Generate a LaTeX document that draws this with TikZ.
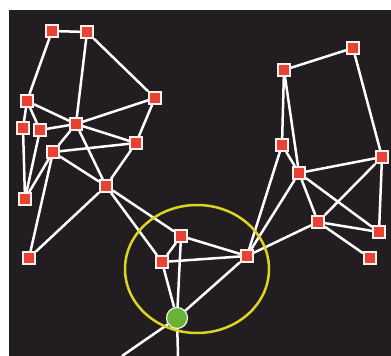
\documentclass[tikz,border=0pt]{standalone}
\definecolor{BoardDark}{RGB}{34,29,32}
\definecolor{HubRed}{RGB}{232,66,50}
\definecolor{SeedGreen}{RGB}{104,178,52}
\definecolor{RingYellow}{RGB}{222,212,34}
\usepackage{tikz}
\usetikzlibrary{backgrounds}

\begin{document}
\begin{tikzpicture}[x=1pt,y=-1pt,
    sq/.style={draw=white!92!HubRed,fill=HubRed,line width=2.4pt,minimum size=11.5pt,inner sep=0pt},
    seed/.style={circle,draw=white!85!SeedGreen,fill=SeedGreen,line width=1.2pt,minimum size=21pt,inner sep=0pt},
    link/.style={white,line width=2.5pt}]
      \useasboundingbox (0,0) rectangle (391,356);
      % left cluster
      \foreach \n/\x/\y in {
        a/52/31, b/87/32, c/27/101, d/155/98, e/23/128, f/40/130,
        g/76/124, h/136/143, i/53/152, j/106/186, k/25/199, l/29/258}{
        \node[sq] (\n) at (\x,\y) {};
      }
      % middle
      \foreach \n/\x/\y in {m/181/236, n/162/262, o/247/256}{
        \node[sq] (\n) at (\x,\y) {};
      }
      \node[seed] (s) at (177,318) {};
      % right cluster
      \foreach \n/\x/\y in {
        p/284/70, q/353/48, r/282/145, t/382/157, u/318/222,
        v/379/232, w/370/258, z/299/173}{
        \node[sq] (\n) at (\x,\y) {};
      }
      \coordinate (bl) at (122,356);
      \coordinate (bc) at (178,356);
      \begin{scope}[on background layer]
        \fill[BoardDark] (9,10) rectangle (391,356);
        \foreach \a/\b in {
          a/b, a/c, b/g, b/d, c/g, c/e, c/f, d/g, d/h, f/g,
          g/i, g/h, g/j, i/h, i/j, h/j, e/k, f/k, i/k, i/l, j/l,
          j/m, j/n, m/n, m/o, m/s, n/o, n/s, o/s, s/bl, s/bc,
          o/r, o/z, o/u, p/q, p/r, p/z, q/t, r/z, z/t, z/u, z/v,
          t/u, t/v, u/v, u/w}{
          \draw[link] (\a) -- (\b);
        }
        \draw[RingYellow,line width=2.5pt] (197,269) ellipse (72 and 64);
      \end{scope}
    \end{tikzpicture}
\end{document}
